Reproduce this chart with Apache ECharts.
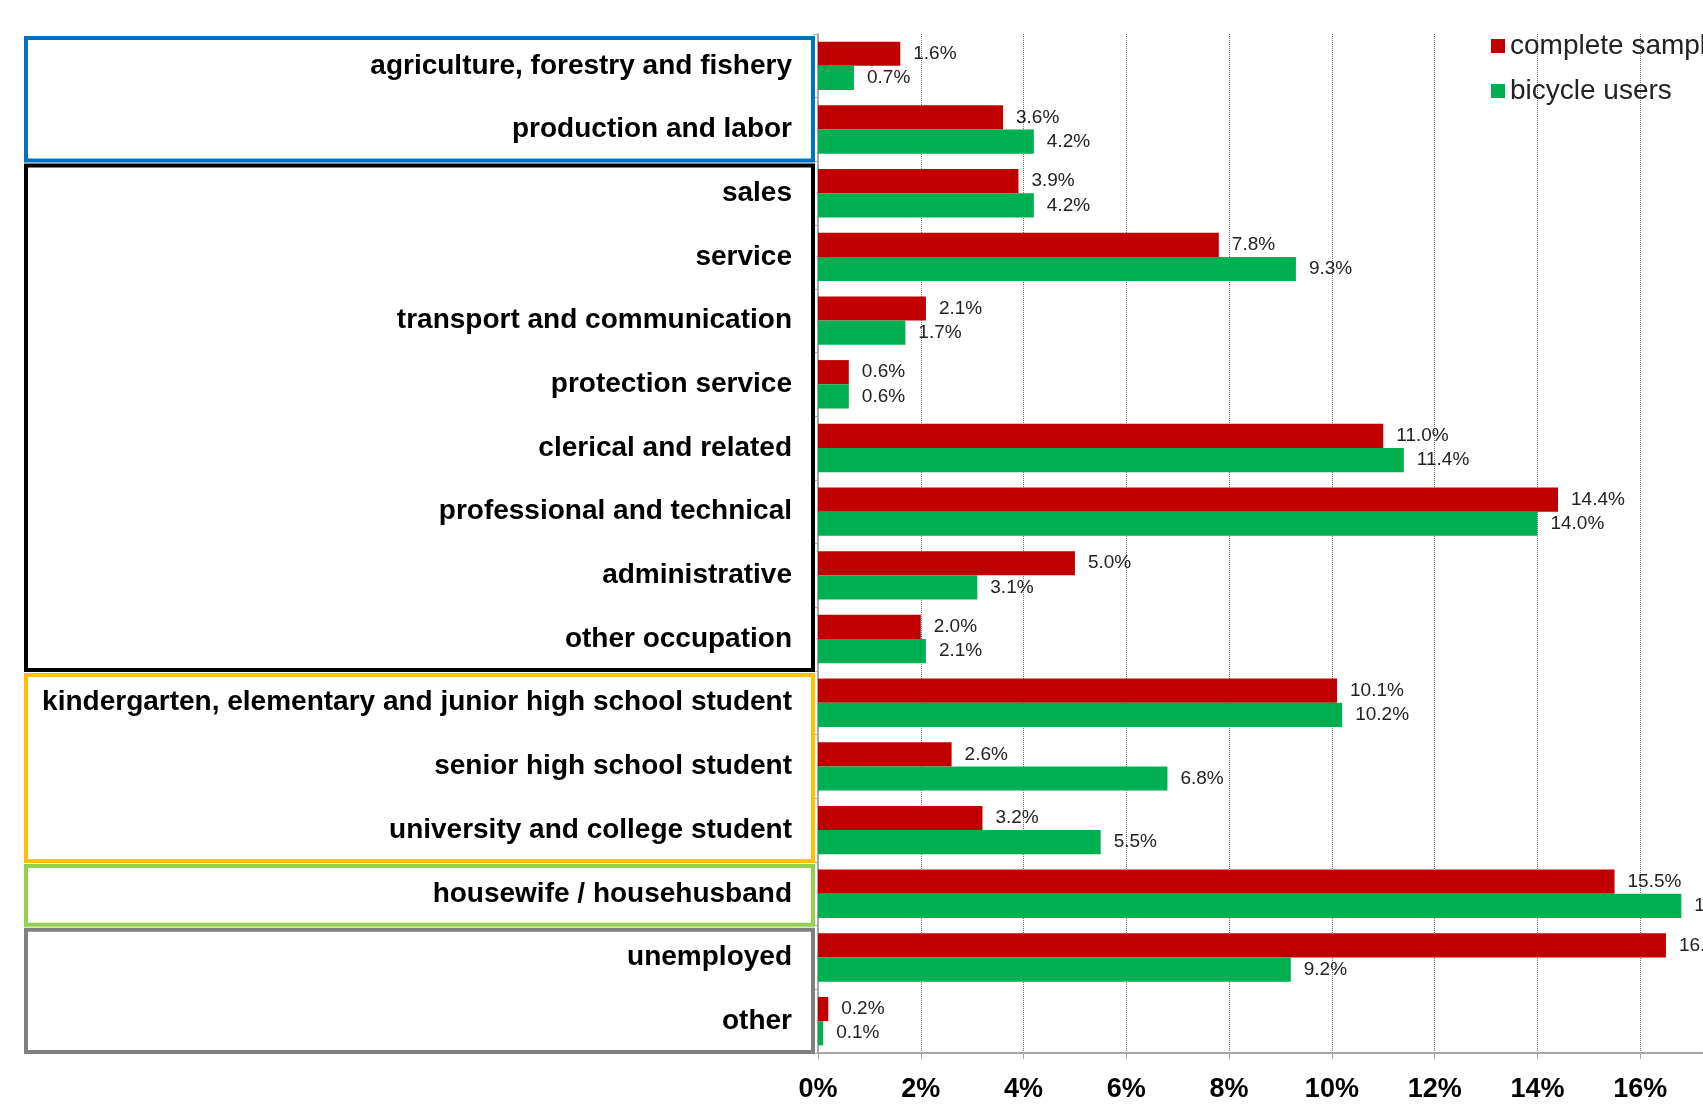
<!DOCTYPE html>
<html>
<head>
<meta charset="utf-8">
<script src="https://cdn.jsdelivr.net/npm/echarts@6/dist/echarts.min.js"></script>
<style>
html, body { margin: 0; padding: 0; overflow: hidden; background: #fff; }
#main { width: 1800px; height: 1116px; }
</style>
</head>
<body>
<div id="main"></div>
<script>
// occupations, top to bottom
var categories = [
    'agriculture, forestry and fishery',
    'production and labor',
    'sales',
    'service',
    'transport and communication',
    'protection service',
    'clerical and related',
    'professional and technical',
    'administrative',
    'other occupation',
    'kindergarten, elementary and junior high school student',
    'senior high school student',
    'university and college student',
    'housewife / househusband',
    'unemployed',
    'other'
];
var completeSample = [1.6, 3.6, 3.9, 7.8, 2.1, 0.6, 11.0, 14.4, 5.0, 2.0, 10.1, 2.6, 3.2, 15.5, 16.5, 0.2];
var bicycleUsers   = [0.7, 4.2, 4.2, 9.3, 1.7, 0.6, 11.4, 14.0, 3.1, 2.1, 10.2, 6.8, 5.5, 16.8, 9.2, 0.1];
var seriesNames = ['complete sample', 'bicycle users'];

// groups of categories framed on the left (first index, last index)
var groupFrom = [0, 2, 10, 13, 14];
var groupTo   = [1, 9, 12, 13, 15];
var groupColors = ['#0070C0', '#000000', '#FFC000', '#92D050', '#808080'];

var font = 'Arial, "Liberation Sans", sans-serif';

var dom = document.getElementById('main');
var myChart = echarts.init(dom);

function pctLabel(p) {
    return p.value.toFixed(1) + '%';
}

var option = {
    animation: false,
    legend: {
        left: 1486,
        top: 27,
        orient: 'vertical',
        icon: 'rect',
        itemWidth: 14,
        itemHeight: 14,
        itemGap: 17,
        textStyle: {
            fontFamily: font,
            fontSize: 28,
            color: '#222'
        },
        data: seriesNames
    },
    grid: {
        left: 818,
        top: 34,
        bottom: 63,
        right: 57,
        containLabel: false,
        outerBoundsMode: 'none'
    },
    xAxis: {
        type: 'value',
        min: 0,
        max: 18,
        interval: 2,
        axisLine: { show: true, lineStyle: { color: '#a6a6a6', width: 2 } },
        axisTick: { show: true, length: 6, lineStyle: { color: '#a6a6a6' } },
        splitLine: { show: true, lineStyle: { color: '#707070', type: 'dotted', width: 1 } },
        axisLabel: {
            formatter: '{value}%',
            fontFamily: font,
            fontWeight: 'bold',
            fontSize: 27,
            color: '#000',
            margin: 23
        }
    },
    yAxis: {
        type: 'category',
        inverse: true,
        data: categories,
        axisLine: { show: true, lineStyle: { color: '#a6a6a6', width: 2 } },
        axisTick: { show: true, length: 5, lineStyle: { color: '#a6a6a6' } },
        axisLabel: {
            fontFamily: font,
            fontWeight: 'bold',
            fontSize: 28,
            color: '#000',
            margin: 26,
            padding: [4, 0, 0, 0]
        }
    },
    series: [
        {
            name: seriesNames[0],
            type: 'bar',
            data: completeSample,
            barGap: '0%',
            barCategoryGap: '24%',
            itemStyle: { color: '#C00000' },
            label: {
                show: true,
                position: 'right',
                distance: 13,
                formatter: pctLabel,
                fontFamily: font,
                fontSize: 19,
                color: '#222'
            }
        },
        {
            name: seriesNames[1],
            type: 'bar',
            data: bicycleUsers,
            itemStyle: { color: '#00B050' },
            label: {
                show: true,
                position: 'right',
                distance: 13,
                formatter: pctLabel,
                fontFamily: font,
                fontSize: 19,
                color: '#222'
            }
        }
    ]
};

myChart.setOption(option);

// frames round the category groups, placed from the axis itself
var c0 = myChart.convertToPixel({ yAxisIndex: 0 }, categories[0]);
var c1 = myChart.convertToPixel({ yAxisIndex: 0 }, categories[1]);
var band = c1 - c0;
var axisX = myChart.convertToPixel({ xAxisIndex: 0 }, 0);
var boxes = [];
for (var g = 0; g < groupFrom.length; g++) {
    var boxTop = myChart.convertToPixel({ yAxisIndex: 0 }, categories[groupFrom[g]]) - band / 2 + 4;
    var boxBottom = myChart.convertToPixel({ yAxisIndex: 0 }, categories[groupTo[g]]) + band / 2 - 1;
    boxes.push({
        type: 'rect',
        silent: true,
        z: 1,
        shape: { x: 26, y: boxTop, width: axisX - 5 - 26, height: boxBottom - boxTop },
        style: { fill: 'none', stroke: groupColors[g], lineWidth: 4 }
    });
}
myChart.setOption({ graphic: boxes });
</script>
</body>
</html>
